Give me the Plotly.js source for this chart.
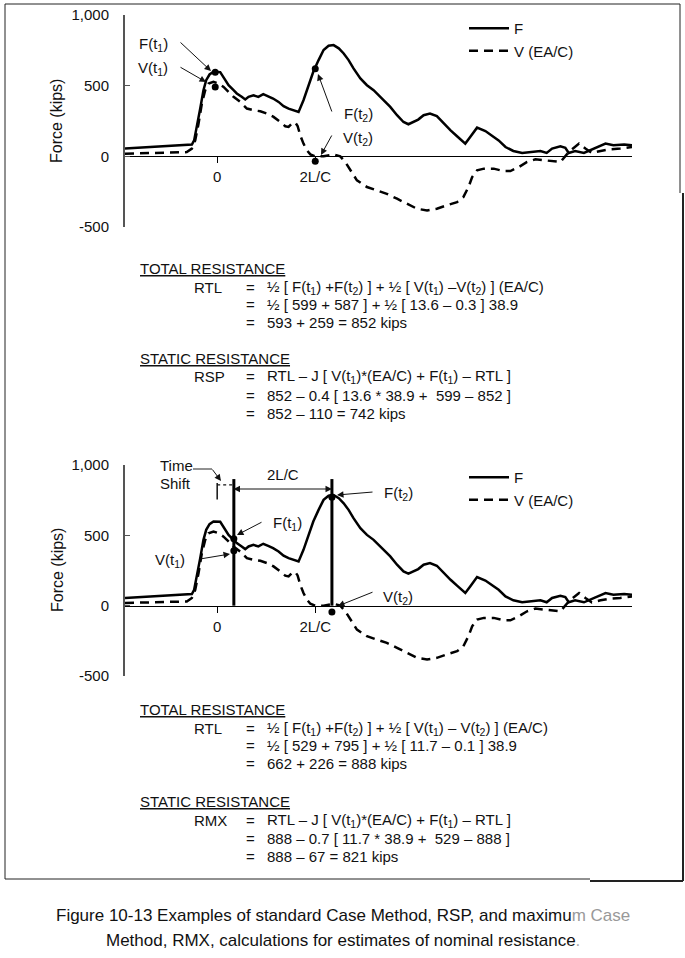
<!DOCTYPE html>
<html><head><meta charset="utf-8">
<script src="https://cdn.plot.ly/plotly-3.0.1.min.js"></script>
<style>html,body{margin:0;padding:0;background:#fff;} #chart{width:685px;height:958px;}</style>
</head><body><div id="chart"></div>
<script>
// time axis in units where 2L/C = 10
const fTime = [-9.4, -2.58, -2.35, -2.07, -1.73, -1.4, -1.12, -0.78, -0.38, 0.31, 0.65, 1.16, 1.67, 2.0, 2.5, 2.86, 3.2, 3.7, 4.2, 4.7, 5.2, 5.7, 6.26, 6.77, 7.28, 7.8, 8.3, 8.8, 9.3, 9.8, 10.34, 10.85, 11.36, 11.87, 12.4, 12.9, 13.4, 13.9, 14.6, 15.27, 15.95, 16.46, 17.14, 17.65, 18.34, 19.0, 19.5, 20.0, 20.5, 21.05, 21.7, 22.4, 23.1, 23.8, 24.46, 24.97, 25.3, 25.8, 26.5, 27.35, 28.0, 28.7, 29.4, 30.2, 31.1, 31.9, 32.96, 33.6, 34.15, 35.0, 35.5, 35.85, 36.5, 37.4, 38.4, 39.6, 40.4, 41.5, 42.3];
const fForce = [55, 83, 113, 208, 338, 468, 539, 579, 598, 596, 562, 503, 468, 445, 421, 402, 421, 432, 421, 440, 425, 409, 385, 355, 338, 326, 314, 397, 503, 598, 681, 752, 782, 787, 764, 728, 681, 622, 551, 503, 468, 432, 385, 350, 291, 243, 227, 243, 260, 291, 303, 284, 232, 184, 142, 109, 90, 137, 203, 179, 149, 113, 66, 38, 24, 31, 38, 24, 55, 71, 61, 24, 38, 24, 55, 90, 78, 83, 78];
const vTime = [-9.4, -3.1, -2.58, -2.24, -1.9, -1.56, -1.22, -0.88, -0.38, 0.14, 0.65, 1.16, 1.67, 2.35, 3.03, 3.7, 4.4, 5.07, 5.75, 6.43, 6.94, 7.28, 7.62, 7.96, 8.2, 8.47, 8.8, 9.15, 9.5, 10, 10.85, 11.87, 12.55, 13.06, 13.57, 14.25, 15.27, 16.3, 17.3, 18.34, 19.36, 20.38, 21.4, 22.4, 23.4, 24.46, 25.1, 25.65, 26.0, 26.5, 27.2, 28.2, 29.2, 29.9, 30.75, 31.6, 32.45, 33.3, 34.15, 35.0, 35.85, 36.9, 37.55, 38.2, 39.1, 40.1, 41.1, 42.3];
const vForce = [19, 30, 55, 113, 232, 374, 468, 515, 527, 515, 491, 456, 421, 385, 338, 326, 319, 303, 279, 243, 213, 208, 232, 240, 215, 149, 90, 43, 14, 0, 0, 14, 0, -40, -99, -170, -217, -241, -265, -300, -336, -371, -383, -371, -347, -324, -289, -213, -147, -99, -87, -87, -104, -104, -76, -40, -21, -28, -35, -40, 30, 90, 55, 24, 38, 50, 55, 66];

const xTickVals = [0, 10];
const xTickText = ['0', '2L/C'];
const yTickVals = [-500, 0, 500, 1000];
const yTickText = ['-500', '0', '500', '1,000'];
const seriesNames = ['F', 'V (EA/C)'];

// picked points, standard Case method (RSP)
const rspTime = [-0.2, -0.2, 10, 10];
const rspForce = [595, 490, 620, -35];
// picked points, maximum Case method (RMX), with time shift
const rmxTime = [1.7, 1.7, 11.7, 11.7];
const rmxForce = [475, 390, 770, -45];
const rmxLineTime = [1.7, 11.7];
const rmxLineTop = 900;

const W = 685, H = 958;
const FONT = 'Liberation Sans, Arial, Helvetica, sans-serif';
const px = v => v / W;
const py = v => 1 - v / H;

const solid = {color: '#000', width: 2.5};
const dashed = {color: '#000', width: 2.5, dash: '9px,6px'};

const traces = [
  {x: fTime, y: fForce, xaxis: 'x', yaxis: 'y', mode: 'lines', name: seriesNames[0], line: solid, legend: 'legend'},
  {x: vTime, y: vForce, xaxis: 'x', yaxis: 'y', mode: 'lines', name: seriesNames[1], line: dashed, legend: 'legend'},
  {x: rspTime, y: rspForce, xaxis: 'x', yaxis: 'y', mode: 'markers', marker: {color: '#000', size: 7}, showlegend: false},
  {x: fTime, y: fForce, xaxis: 'x2', yaxis: 'y2', mode: 'lines', name: seriesNames[0], line: solid, legend: 'legend2'},
  {x: vTime, y: vForce, xaxis: 'x2', yaxis: 'y2', mode: 'lines', name: seriesNames[1], line: dashed, legend: 'legend2'},
  {x: [rmxLineTime[0], rmxLineTime[0], null, rmxLineTime[1], rmxLineTime[1]], y: [0, rmxLineTop, null, 0, rmxLineTop],
   xaxis: 'x2', yaxis: 'y2', mode: 'lines', line: {color: '#000', width: 3}, showlegend: false},
  {x: rmxTime, y: rmxForce, xaxis: 'x2', yaxis: 'y2', mode: 'markers', marker: {color: '#000', size: 7}, showlegend: false}
];

function xa(pos) {
  return {domain: [px(125), px(632)], range: [-9.4, 42.3], anchor: 'free', position: pos,
    showline: true, linecolor: '#000', linewidth: 1, ticks: 'outside', ticklen: 6, tickcolor: '#000',
    tickvals: xTickVals, ticktext: xTickText, showgrid: false, zeroline: false, ticklabelstandoff: 1,
    tickfont: {family: FONT, size: 15, color: '#111'}, fixedrange: true};
}
function ya(top, bot, anchor) {
  return {domain: [py(bot), py(top)], range: [-500, 1000], anchor: anchor,
    showline: true, linecolor: '#555', linewidth: 2, ticks: 'inside', ticklen: 5, tickcolor: '#555',
    tickvals: yTickVals, ticktext: yTickText, showgrid: false, zeroline: false, ticklabelstandoff: 11,
    tickfont: {family: FONT, size: 15, color: '#111'}, fixedrange: true};
}

const ann = [];
function txt(text, x, y, opts) {
  ann.push(Object.assign({text: text, x: px(x), y: py(y), xref: 'paper', yref: 'paper', showarrow: false,
    xanchor: 'center', yanchor: 'middle', font: {family: FONT, size: 15, color: '#111'}}, opts || {}));
}
function arrow(tx, ty, hx, hy, opts) {
  ann.push(Object.assign({text: '', x: px(hx), y: py(hy), xref: 'paper', yref: 'paper', showarrow: true,
    ax: tx - hx, ay: ty - hy, arrowhead: 2, arrowsize: 1.3, arrowwidth: 1, arrowcolor: '#111',
    font: {size: 1}, borderpad: 0}, opts || {}));
}

// axis titles
txt('Force (kips)', 57, 121, {textangle: -90, font: {family: FONT, size: 16, color: '#111'}});
txt('Force (kips)', 57, 570, {textangle: -90, font: {family: FONT, size: 16, color: '#111'}});

// top chart labels
txt('F(t<sub>1</sub>)', 153, 45);
txt('V(t<sub>1</sub>)', 153, 69);
arrow(180, 42, 211, 71);
arrow(180, 67, 206, 82);
txt('F(t<sub>2</sub>)', 358, 114);
txt('V(t<sub>2</sub>)', 358, 139);
arrow(332, 112, 318, 74);
arrow(332, 135, 321, 155);

// bottom chart labels
txt('Time', 158, 465, {xanchor: 'left'});
txt('Shift', 158, 484, {xanchor: 'left'});
arrow(212, 469, 221, 481);
txt('2L/C', 283, 474);
arrow(233, 489, 332, 489, {arrowside: 'end+start'});
txt('F(t<sub>1</sub>)', 287, 523);
arrow(262, 522, 237, 535);
txt('V(t<sub>1</sub>)', 170, 560);
arrow(200, 559, 230, 554);
txt('F(t<sub>2</sub>)', 398, 493);
arrow(373, 492, 337, 495);
txt('V(t<sub>2</sub>)', 398, 597);
arrow(373, 592, 338, 606);

// calculations
const cf = {family: FONT, size: 15, color: '#111'};
function calcBlock(y0, head1, lab1, lines1, head2, lab2, lines2, y1) {
  txt('<u>' + head1 + '</u>', 138, y0, {xanchor: 'left', font: cf});
  txt(lab1, 192, y0 + 19, {xanchor: 'left', font: cf});
  lines1.forEach((t, i) => {
    txt('=', 250, y0 + 19 + i * 17.5, {font: cf});
    txt(t, 265, y0 + 19 + i * 17.5, {xanchor: 'left', font: cf});
  });
  txt('<u>' + head2 + '</u>', 138, y1, {xanchor: 'left', font: cf});
  txt(lab2, 192, y1 + 19, {xanchor: 'left', font: cf});
  lines2.forEach((t, i) => {
    txt('=', 250, y1 + 19 + i * 18, {font: cf});
    txt(t, 265, y1 + 19 + i * 18, {xanchor: 'left', font: cf});
  });
}
calcBlock(268, 'TOTAL RESISTANCE', 'RTL', [
  '½ [ F(t<sub>1</sub>) +F(t<sub>2</sub>) ] + ½ [ V(t<sub>1</sub>) –V(t<sub>2</sub>) ] (EA/C)',
  '½ [ 599 + 587 ] + ½ [ 13.6 – 0.3 ] 38.9',
  '593 + 259 = 852 kips'],
  'STATIC RESISTANCE', 'RSP', [
  'RTL – J [ V(t<sub>1</sub>)*(EA/C) + F(t<sub>1</sub>) – RTL ]',
  '852 – 0.4 [ 13.6 * 38.9 +\u00a0 599 – 852 ]',
  '852 – 110 = 742 kips'], 358);
calcBlock(709, 'TOTAL RESISTANCE', 'RTL', [
  '½ [ F(t<sub>1</sub>) +F(t<sub>2</sub>) ] + ½ [ V(t<sub>1</sub>) – V(t<sub>2</sub>) ] (EA/C)',
  '½ [ 529 + 795 ] + ½ [ 11.7 – 0.1 ] 38.9',
  '662 + 226 = 888 kips'],
  'STATIC RESISTANCE', 'RMX', [
  'RTL – J [ V(t<sub>1</sub>)*(EA/C) + F(t<sub>1</sub>) – RTL ]',
  '888 – 0.7 [ 11.7 * 38.9 +\u00a0 529 – 888 ]',
  '888 – 67 = 821 kips'], 801);

// caption
const capf = {family: FONT, size: 17, color: '#111'};
txt('Figure 10-13 Examples of standard Case Method, RSP, and maximu<span style="color:#999">m Case</span>', 343, 915, {font: capf});
txt('Method, RMX, calculations for estimates of nominal resistanc<span>e</span><span style="color:#aaa">.</span>', 343, 940, {font: capf});

const line = (x0, y0, x1, y1, w, extra) => Object.assign({type: 'line', xref: 'paper', yref: 'paper',
  x0: px(x0), y0: py(y0), x1: px(x1), y1: py(y1), line: {color: '#222', width: w}}, extra || {});
const shapes = [
  line(5, 4, 680, 4, 1), line(5, 4, 5, 879, 1), line(680, 4, 680, 193, 1),
  line(5, 879, 590, 879, 1), line(590, 881, 683, 881, 2), line(683, 193, 683, 881, 2),
  // time shift marks
  {type: 'line', xref: 'x2', yref: 'y2', x0: 0, x1: 0, y0: 755, y1: 872, line: {color: '#111', width: 1.5}},
  {type: 'line', xref: 'x2', yref: 'y2', x0: 0, x1: rmxLineTime[0], y0: 858, y1: 858, line: {color: '#111', width: 1.2, dash: 'dot'}},
  line(193, 469, 212, 469, 1)
];

const layout = {
  width: W, height: H, margin: {l: 0, r: 0, t: 0, b: 0},
  paper_bgcolor: '#fff', plot_bgcolor: 'rgba(0,0,0,0)',
  font: {family: FONT, color: '#111'},
  xaxis: xa(py(156)), yaxis: ya(15, 227, 'x'),
  xaxis2: xa(py(606)), yaxis2: ya(465, 676, 'x2'),
  legend: {x: px(464), y: py(12), xanchor: 'left', yanchor: 'top', font: {family: FONT, size: 15, color: '#111'},
    bgcolor: 'rgba(0,0,0,0)', itemwidth: 40, tracegroupgap: 0},
  legend2: {x: px(464), y: py(461), xanchor: 'left', yanchor: 'top', font: {family: FONT, size: 15, color: '#111'},
    bgcolor: 'rgba(0,0,0,0)', itemwidth: 40, tracegroupgap: 0},
  annotations: ann, shapes: shapes, showlegend: true
};

Plotly.newPlot('chart', traces, layout, {staticPlot: true, displayModeBar: false});
</script></body></html>
